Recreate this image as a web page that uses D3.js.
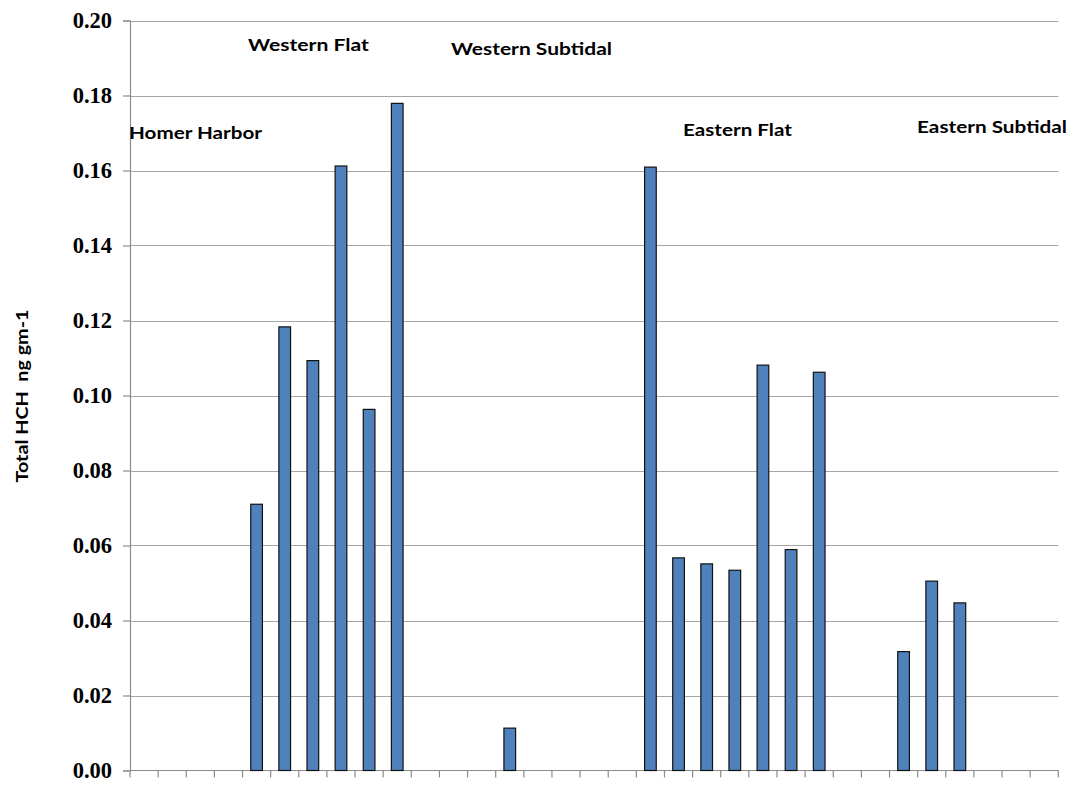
<!DOCTYPE html>
<html>
<head>
<meta charset="utf-8">
<script src="https://cdn.jsdelivr.net/npm/d3@7"></script>
<style>
  html, body { margin: 0; padding: 0; background: #fff; }
  svg { display: block; }
</style>
</head>
<body>
<div id="chart"></div>
<script>
// ---- Data ----
const categories = d3.range(1, 34).map(String);
const values = [
  null, null, null, null, 0.0710, 0.1183, 0.1093, 0.1612, 0.0963, 0.1779,
  null, null, null, 0.0113, null, null, null, null, 0.1609, 0.0567,
  0.0551, 0.0534, 0.1081, 0.0589, 0.1062, null, null, 0.0317, 0.0505, 0.0447,
  null, null, null
];
const yTicks = [0, 0.02, 0.04, 0.06, 0.08, 0.10, 0.12, 0.14, 0.16, 0.18, 0.20];
const groupLabels = ["Homer Harbor", "Western Flat", "Western Subtidal", "Eastern Flat", "Eastern Subtidal"];
const yTitle = "Total HCH  ng gm-1";

// ---- Layout ----
const W = 1076, H = 785;
const pLeft = 130, pRight = 1058.3, pTop = 20.5, pBottom = 770.5;

const svg = d3.select("#chart").append("svg").attr("width", W).attr("height", H);

const x = d3.scaleBand().domain(categories).range([pLeft, pRight])
  .paddingInner(0.585).paddingOuter(0.2925);
const y = d3.scaleLinear().domain([0, 0.20]).range([pBottom, pTop]);
const step = x.step();

// gridlines
svg.append("g").selectAll("line").data(yTicks.filter(t => t > 0)).join("line")
  .attr("x1", pLeft).attr("x2", pRight)
  .attr("y1", d => Math.round(y(d)) + 0.5).attr("y2", d => Math.round(y(d)) + 0.5)
  .attr("stroke", "#a6a6a6").attr("stroke-width", 1.2);

// y axis
const yAxis = d3.axisLeft(y).tickValues(yTicks).tickFormat(d3.format(".2f"))
  .tickSize(7).tickPadding(11);
const gy = svg.append("g").attr("transform", `translate(${pLeft},0)`).call(yAxis);
gy.select(".domain").attr("stroke", "#8c8c8c").attr("stroke-width", 1.2);
gy.selectAll(".tick line").attr("stroke", "#8c8c8c").attr("stroke-width", 1.2);
gy.selectAll(".tick text")
  .attr("font-family", "'Liberation Serif', 'Times New Roman', serif")
  .attr("font-weight", "bold").attr("font-size", 22.5).attr("fill", "#000");

// x axis baseline and category boundary ticks
const boundaries = categories.map(c => x(c) + x.bandwidth() / 2 - step / 2).concat([pRight]);
svg.append("line").attr("x1", pLeft).attr("x2", pRight)
  .attr("y1", pBottom).attr("y2", pBottom).attr("stroke", "#8c8c8c").attr("stroke-width", 1.2);
svg.append("g").selectAll("line").data(boundaries).join("line")
  .attr("x1", d => d).attr("x2", d => d)
  .attr("y1", pBottom).attr("y2", pBottom + 7)
  .attr("stroke", "#8c8c8c").attr("stroke-width", 1.2);

// bars
const data = categories.map((c, i) => ({ c, v: values[i] })).filter(d => d.v != null);
svg.append("g").selectAll("rect").data(data).join("rect")
  .attr("x", d => x(d.c))
  .attr("width", x.bandwidth())
  .attr("y", d => y(d.v))
  .attr("height", d => y(0) - y(d.v))
  .attr("fill", "#4f81bd")
  .attr("stroke", "#111")
  .attr("stroke-width", 1.2);

// group labels (text boxes)
const labelPos = [
  { x: 129, y: 139, w: 133 },
  { x: 248, y: 51, w: 121 },
  { x: 451, y: 55, w: 161 },
  { x: 683, y: 136, w: 109 },
  { x: 917, y: 133, w: 150 }
];
svg.append("g").selectAll("text").data(groupLabels).join("text")
  .attr("x", (d, i) => labelPos[i].x)
  .attr("y", (d, i) => labelPos[i].y)
  .attr("textLength", (d, i) => labelPos[i].w)
  .attr("lengthAdjust", "spacingAndGlyphs")
  .attr("font-family", "Lato, 'Open Sans', sans-serif")
  .attr("font-weight", "bold").attr("font-size", 17).attr("fill", "#000")
  .text(d => d);

// y axis title
svg.append("text")
  .attr("transform", `translate(28,396) rotate(-90)`)
  .attr("text-anchor", "middle")
  .style("white-space", "pre")
  .attr("textLength", 173).attr("lengthAdjust", "spacingAndGlyphs")
  .attr("font-family", "Lato, 'Open Sans', sans-serif")
  .attr("font-weight", "bold").attr("font-size", 17).attr("fill", "#000")
  .text(yTitle);
</script>
</body>
</html>
